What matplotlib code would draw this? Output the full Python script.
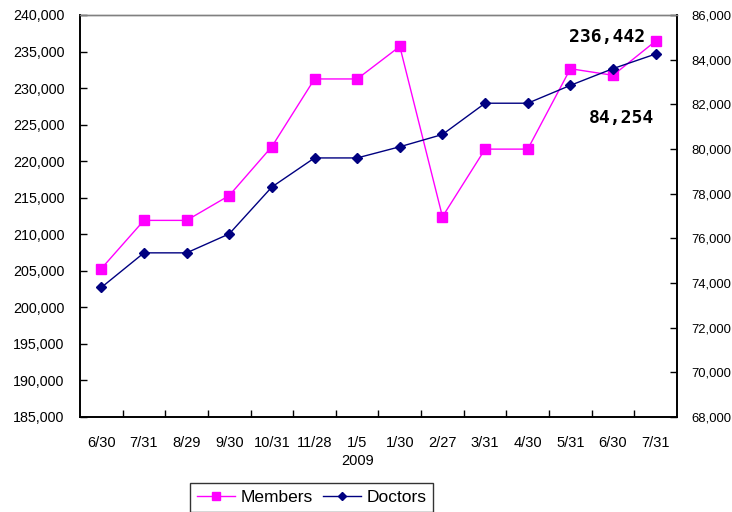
import matplotlib
matplotlib.use('Agg')
import matplotlib.pyplot as plt
from matplotlib.ticker import FuncFormatter, MultipleLocator

# data
dates = ['6/30', '7/31', '8/29', '9/30', '10/31', '11/28', '1/5',
         '1/30', '2/27', '3/31', '4/30', '5/31', '6/30', '7/31']
members = [205300, 211900, 211900, 215300, 222000, 231250, 231250,
           235700, 212400, 221650, 221650, 232650, 231750, 236442]
doctors = [73800, 75350, 75350, 76200, 78300, 79600, 79600,
           80100, 80650, 82050, 82050, 82850, 83600, 84254]
year_label = '2009'
year_index = 6

plt.rcParams['font.family'] = ['Liberation Sans', 'DejaVu Sans']

W, H = 732, 512
fig = plt.figure(figsize=(W / 100, H / 100), dpi=100, facecolor='white')
ax = fig.add_axes([80 / W, 1 - 417 / H, 597 / W, 402 / H])
ax2 = ax.twinx()

x = list(range(len(dates)))

l1, = ax.plot(x, members, color='#FF00FF', marker='s', markersize=7,
              linewidth=1, label='Members', zorder=3)
l2, = ax2.plot(x, doctors, color='#000080', marker='D', markersize=5,
               linewidth=1, label='Doctors', zorder=3)

# left axis
ax.set_xlim(-0.5, len(dates) - 0.5)
ax.set_ylim(185000, 240000)
ax.yaxis.set_major_locator(MultipleLocator(5000))
ax.yaxis.set_major_formatter(FuncFormatter(lambda v, p: f'{int(v):,}'))

# right axis
ax2.set_ylim(68000, 86000)
ax2.yaxis.set_major_locator(MultipleLocator(2000))
ax2.yaxis.set_major_formatter(FuncFormatter(lambda v, p: f'{int(v):,}'))

# category labels centered, ticks between categories
ax.set_xticks(x)
ax.set_xticklabels(dates)
ax.set_xticks([i + 0.5 for i in x[:-1]], minor=True)
ax.tick_params(axis='x', which='major', length=0, pad=14, labelsize=10.5,
               colors='black')
ax.tick_params(axis='x', which='minor', direction='in', length=5, width=1,
               color='black')
ax.tick_params(axis='y', direction='in', length=5, width=1, labelsize=10.3,
               pad=11)
ax2.tick_params(axis='y', direction='in', length=5, width=1, labelsize=9.4,
                pad=10)

for a in (ax, ax2):
    a.spines['left'].set_color('black')
    a.spines['right'].set_color('black')
    a.spines['bottom'].set_color('black')
    a.spines['top'].set_color('#808080')
    for s in a.spines.values():
        s.set_linewidth(1.2)
    a.spines['top'].set_linewidth(1)

# year label under 1/5
ax.text(year_index, -0.11, year_label, transform=ax.get_xaxis_transform(),
        ha='center', va='center', fontsize=10.5)

# value call-outs (figure pixel positions, y from the top)
ax.text(607 / W, 1 - 37 / H, f'{members[-1]:,}', transform=fig.transFigure,
        ha='center', va='center', fontsize=13, fontweight='bold',
        family='DejaVu Sans Mono')
ax.text(621 / W, 1 - 118 / H, f'{doctors[-1]:,}', transform=fig.transFigure,
        ha='center', va='center', fontsize=13, fontweight='bold',
        family='DejaVu Sans Mono')

# legend box at the bottom
leg = fig.legend(handles=[l1, l2], loc='upper left',
                 bbox_to_anchor=(190 / W, 1 - 483 / H), borderaxespad=0,
                 ncol=2, fontsize=12.5, frameon=True, fancybox=False,
                 shadow=False, handlelength=2.2, handletextpad=0.3,
                 columnspacing=0.6, borderpad=0.4, markerscale=0.75)
leg.get_frame().set_edgecolor('black')
leg.get_frame().set_linewidth(1)

fig.savefig('out.png', dpi=100, facecolor='white')
